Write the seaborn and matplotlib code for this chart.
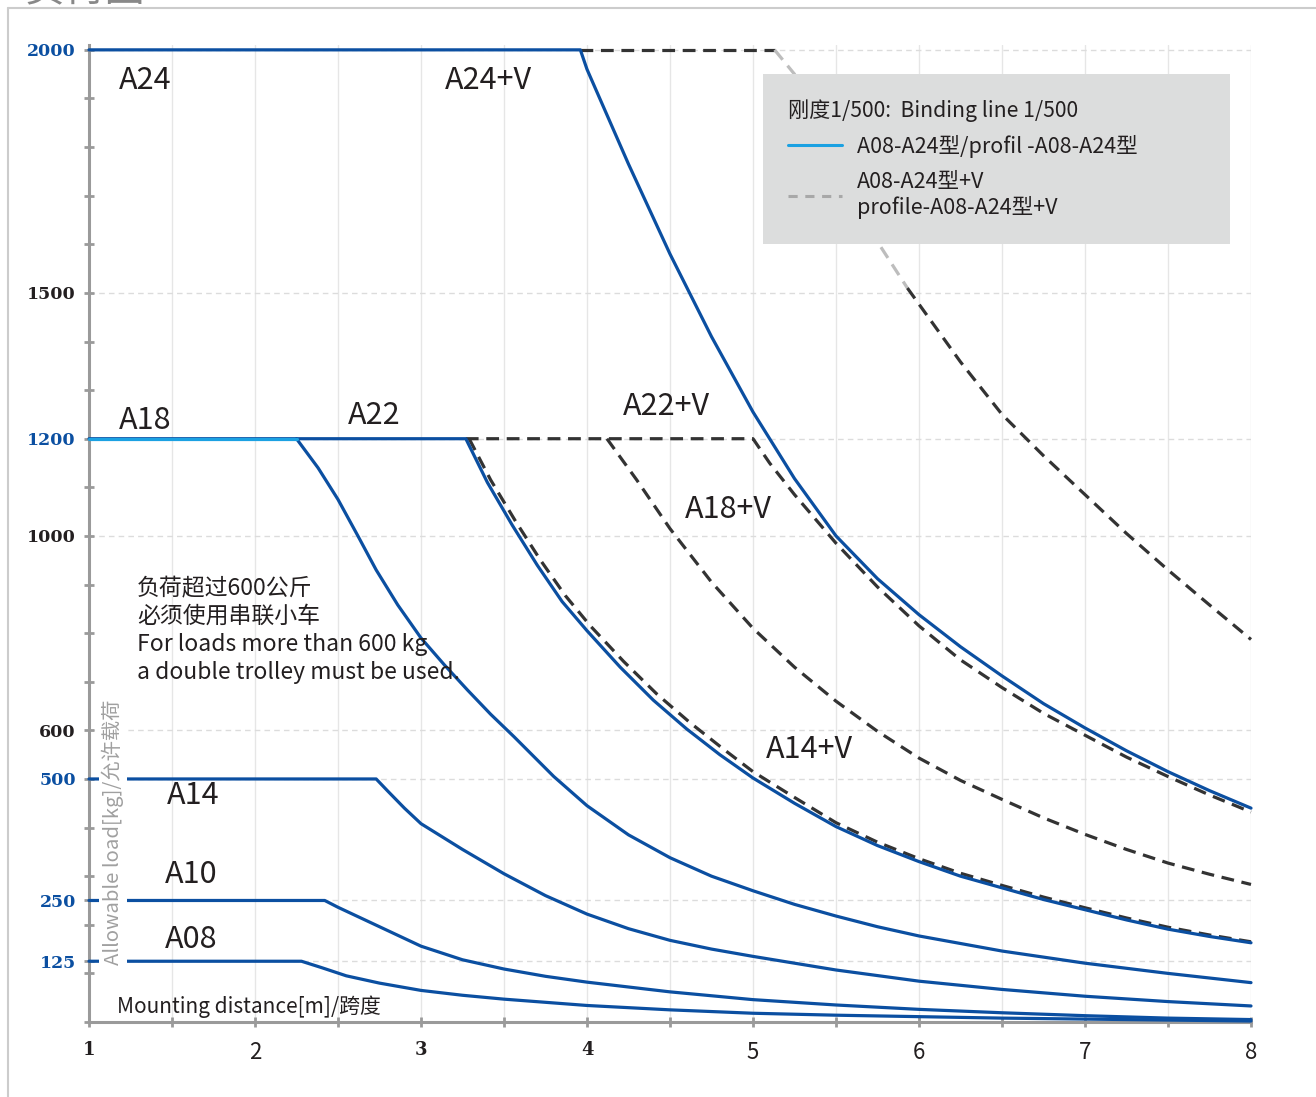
import matplotlib.pyplot as plt
import pandas as pd
import seaborn as sns
from matplotlib.lines import Line2D

# span [m] / allowable load [kg]
a24_x = [1, 3.96, 4.0, 4.25, 4.5, 4.75, 5.0, 5.25, 5.5, 5.75, 6.0, 6.25, 6.5, 6.75, 7.0, 7.25, 7.5, 7.75, 8.0]
a24_y = [2000, 2000, 1960, 1765, 1580, 1410, 1255, 1118, 1000, 912, 838, 772, 712, 655, 605, 558, 515, 476, 440]

a22_x = [1, 3.27, 3.4, 3.55, 3.7, 3.85, 4.0, 4.2, 4.4, 4.6, 4.8, 5.0, 5.25, 5.5, 5.75, 6.0, 6.25, 6.5, 6.75, 7.0, 7.25, 7.5, 7.75, 8.0]
a22_y = [1200, 1200, 1110, 1022, 940, 865, 805, 730, 662, 603, 550, 502, 450, 402, 363, 330, 300, 276, 252, 231, 210, 191, 176, 163]

a18_x = [1, 2.25, 2.38, 2.5, 2.62, 2.73, 2.86, 3.0, 3.14, 3.28, 3.42, 3.56, 3.8, 4.0, 4.25, 4.5, 4.75, 5.0,
         5.25, 5.5, 5.75, 6.0, 6.5, 7.0, 7.5, 8.0]
a18_y = [1200, 1200, 1140, 1075, 1000, 930, 858, 790, 735, 683, 633, 587, 505, 445, 385, 338, 300, 270,
         242, 218, 196, 177, 146, 121, 100, 81]

a14_x = [1, 2.73, 2.8, 2.9, 3.0, 3.25, 3.5, 3.75, 4.0, 4.25, 4.5, 4.75, 5.0, 5.5, 6.0, 6.5, 7.0, 7.5, 8.0]
a14_y = [500, 500, 475, 440, 408, 355, 305, 260, 222, 192, 168, 150, 135, 107, 84, 67, 53, 42, 33]

a10_x = [1, 2.42, 2.5, 2.75, 3.0, 3.25, 3.5, 3.75, 4.0, 4.5, 5.0, 5.5, 6.0, 6.5, 7.0, 7.5, 8.0]
a10_y = [250, 250, 236, 196, 156, 128, 109, 94, 82, 62, 46, 35, 26, 19, 13, 8, 5]

a08_x = [1, 2.28, 2.4, 2.55, 2.75, 3.0, 3.25, 3.5, 4.0, 4.5, 5.0, 5.5, 6.0, 6.5, 7.0, 7.5, 8.0]
a08_y = [125, 125, 112, 95, 80, 65, 55, 47, 34, 25, 18, 14, 11, 8, 6, 4, 2]

# +V variants (dashed); A24+V is faded where it runs under the legend
a24v_x = [3.96, 5.13, 5.25, 5.5, 5.75, 5.93, 6.25, 6.5, 6.75, 7.0, 7.25, 7.5, 7.75, 8.0]
a24v_y = [2000, 2000, 1950, 1775, 1605, 1510, 1358, 1250, 1165, 1085, 1005, 930, 858, 787]

a22v_x = [3.27, 5.0, 5.1, 5.25, 5.5, 5.75, 6.0, 6.25, 6.5, 6.75, 7.0, 7.25, 7.5, 7.75, 8.0]
a22v_y = [1200, 1200, 1150, 1085, 985, 895, 815, 745, 688, 635, 590, 545, 505, 467, 432]

a18v_x = [4.12, 4.3, 4.5, 4.75, 5.0, 5.25, 5.5, 5.75, 6.0, 6.25, 6.5, 6.75, 7.0, 7.25, 7.5, 7.75, 8.0]
a18v_y = [1200, 1115, 1015, 905, 810, 730, 660, 598, 543, 497, 458, 420, 386, 355, 327, 304, 283]

a14v_x = [3.29, 3.42, 3.57, 3.72, 3.87, 4.02, 4.22, 4.42, 4.62, 4.82, 5.0, 5.25, 5.5, 5.75, 6.0, 6.25,
          6.5, 6.75, 7.0, 7.25, 7.5, 7.75, 8.0]
a14v_y = [1200, 1115, 1030, 950, 877, 815, 742, 675, 616, 562, 515, 462, 410, 370, 336, 306,
          281, 257, 235, 214, 195, 179, 165]

y_ticks = [125, 250, 500, 600, 1000, 1200, 1500, 2000]
y_tick_blue = [True, True, True, False, False, True, False, True]
x_ticks = [1, 2, 3, 4, 5, 6, 7, 8]
x_tick_bold = [True, False, True, True, False, False, False, False]

BLUE = "#0b4fa1"
LIGHT = "#1ba1e2"
DASH = "#333333"
FADED = "#bdbdbd"
TEXT = "#231f20"
AXIS = "#9a9a9a"

sns.set_theme(style="white")
plt.rcParams["font.family"] = ["Noto Sans CJK SC", "DejaVu Sans"]

fig = plt.figure(figsize=(13.16, 10.97), dpi=100)
ax = fig.add_axes([89 / 1316, 1 - 1022 / 1097, (1251 - 89) / 1316, (1022 - 45) / 1097])


def draw(x, y, color, dashed=False, z=3):
    df = pd.DataFrame({"span": x, "load": y})
    kw = {"linestyle": (0, (4, 2.4))} if dashed else {}
    sns.lineplot(data=df, x="span", y="load", color=color, linewidth=2.3,
                 estimator=None, sort=False, ax=ax, zorder=z, clip_on=False, **kw)


draw(a24v_x[:2], a24v_y[:2], DASH, dashed=True)
draw(a24v_x[1:6], a24v_y[1:6], FADED, dashed=True)
draw(a24v_x[5:], a24v_y[5:], DASH, dashed=True)
draw(a22v_x, a22v_y, DASH, dashed=True)
draw(a18v_x, a18v_y, DASH, dashed=True)
draw(a14v_x, a14v_y, DASH, dashed=True)

draw(a24_x, a24_y, BLUE, z=4)
draw(a22_x, a22_y, BLUE, z=4)
draw(a18_x[1:], a18_y[1:], BLUE, z=4)
draw(a18_x[:2], a18_y[:2], LIGHT, z=4.5)
draw(a14_x, a14_y, BLUE, z=4)
draw(a10_x, a10_y, BLUE, z=4)
draw(a08_x, a08_y, BLUE, z=4)

ax.set_xlim(1, 8)
ax.set_ylim(0, 2010)
ax.set_xticks(x_ticks)
ax.set_xticks([v + 0.5 for v in x_ticks[:-1]], minor=True)
ax.set_yticks(y_ticks)
ax.set_yticks(range(0, 2001, 100), minor=True)
ax.set_yticklabels([str(v) for v in y_ticks])
ax.set_xticklabels([str(v) for v in x_ticks])

ax.tick_params(axis="both", which="both", direction="inout", length=7, width=2,
               color=AXIS, left=True, bottom=True)
ax.tick_params(axis="y", pad=6)
ax.tick_params(axis="x", pad=10)
for lab, blue in zip(ax.get_yticklabels(), y_tick_blue):
    lab.set_fontfamily("DejaVu Serif")
    lab.set_fontweight("bold")
    lab.set_fontsize(12.5)
    lab.set_color(BLUE if blue else TEXT)
for lab, bold in zip(ax.get_xticklabels(), x_tick_bold):
    lab.set_color(TEXT)
    if bold:
        lab.set_fontfamily("DejaVu Serif")
        lab.set_fontweight("bold")
        lab.set_fontsize(13)
    else:
        lab.set_fontsize(16)

for side in ["top", "right"]:
    ax.spines[side].set_visible(False)
for side in ["left", "bottom"]:
    ax.spines[side].set_color(AXIS)
    ax.spines[side].set_linewidth(2.2)

ax.set_axisbelow(True)
ax.xaxis.grid(True, which="both", color="#e6e6e6", linewidth=1, linestyle="-")
ax.yaxis.grid(True, which="major", color="#dcdcdc", linewidth=1, linestyle=(0, (4, 3)))

# axis titles sit inside the plot; the y one masks the curves behind it
ax.set_ylabel("")
ax.text((113 - 89) / 1162, (1022 - 832) / 977, "Allowable load[kg]/允许载荷",
        transform=ax.transAxes, rotation=90, color="#a0a0a0", fontsize=14.6,
        ha="center", va="center", zorder=7,
        bbox=dict(facecolor="white", edgecolor="none", pad=2))

ax.set_xlabel("Mounting distance[m]/跨度", color=TEXT, fontsize=15)
ax.xaxis.set_label_coords((117 - 89) / 1162, (1022 - 1007) / 977)
ax.xaxis.label.set_ha("left")
ax.xaxis.label.set_va("center")

curve_labels = [
    ("A24", 1.18, 1936), ("A24+V", 3.145, 1936), ("A18", 1.18, 1237),
    ("A22", 2.56, 1248), ("A22+V", 4.217, 1266), ("A18+V", 4.59, 1054),
    ("A14+V", 5.08, 561), ("A14", 1.47, 465), ("A10", 1.458, 304), ("A08", 1.458, 169),
]
for txt, x, y in curve_labels:
    ax.text(x, y, txt, fontsize=22, color=TEXT, ha="left", va="center", zorder=6)

note = ["负荷超过600公斤", "必须使用串联小车", "For loads more than 600 kg", "a double trolley must be used."]
for i, line in enumerate(note):
    ax.text(1.289, 892 - 57.5 * i, line, fontsize=16.5, color=TEXT, ha="left", va="center", zorder=6)

handles = [
    Line2D([], [], color=LIGHT, linewidth=2.2),
    Line2D([], [], color="#a8a8a8", linewidth=2.2, linestyle=(0, (3, 2.5))),
]
leg = ax.legend(handles, ["A08-A24型/profil -A08-A24型", "A08-A24型+V\nprofile-A08-A24型+V"],
                title="刚度1/500:  Binding line 1/500", loc="upper left",
                bbox_to_anchor=(0.580, 0, 0.402, 0.970), mode="expand",
                frameon=True, facecolor="#dcdddd", edgecolor="none", fancybox=False,
                framealpha=1, borderpad=1.15, handlelength=2.5, handletextpad=0.7,
                labelspacing=0.6, alignment="left", fontsize=15.5, title_fontsize=15.2,
                borderaxespad=0, labelcolor=TEXT)
leg.get_title().set_color(TEXT)
leg.set_zorder(10)

# page frame and cut-off heading
fig.add_artist(Line2D([8 / 1316, 1], [1 - 8 / 1097] * 2, transform=fig.transFigure,
                      color="#cccccc", linewidth=1.5))
fig.add_artist(Line2D([8 / 1316] * 2, [0, 1 - 8 / 1097], transform=fig.transFigure,
                      color="#cccccc", linewidth=1.5))
fig.text(25 / 1316, 1.0, "负荷图", fontsize=29, color="#888888", ha="left", va="baseline")

fig.savefig("out.png", dpi=100)
